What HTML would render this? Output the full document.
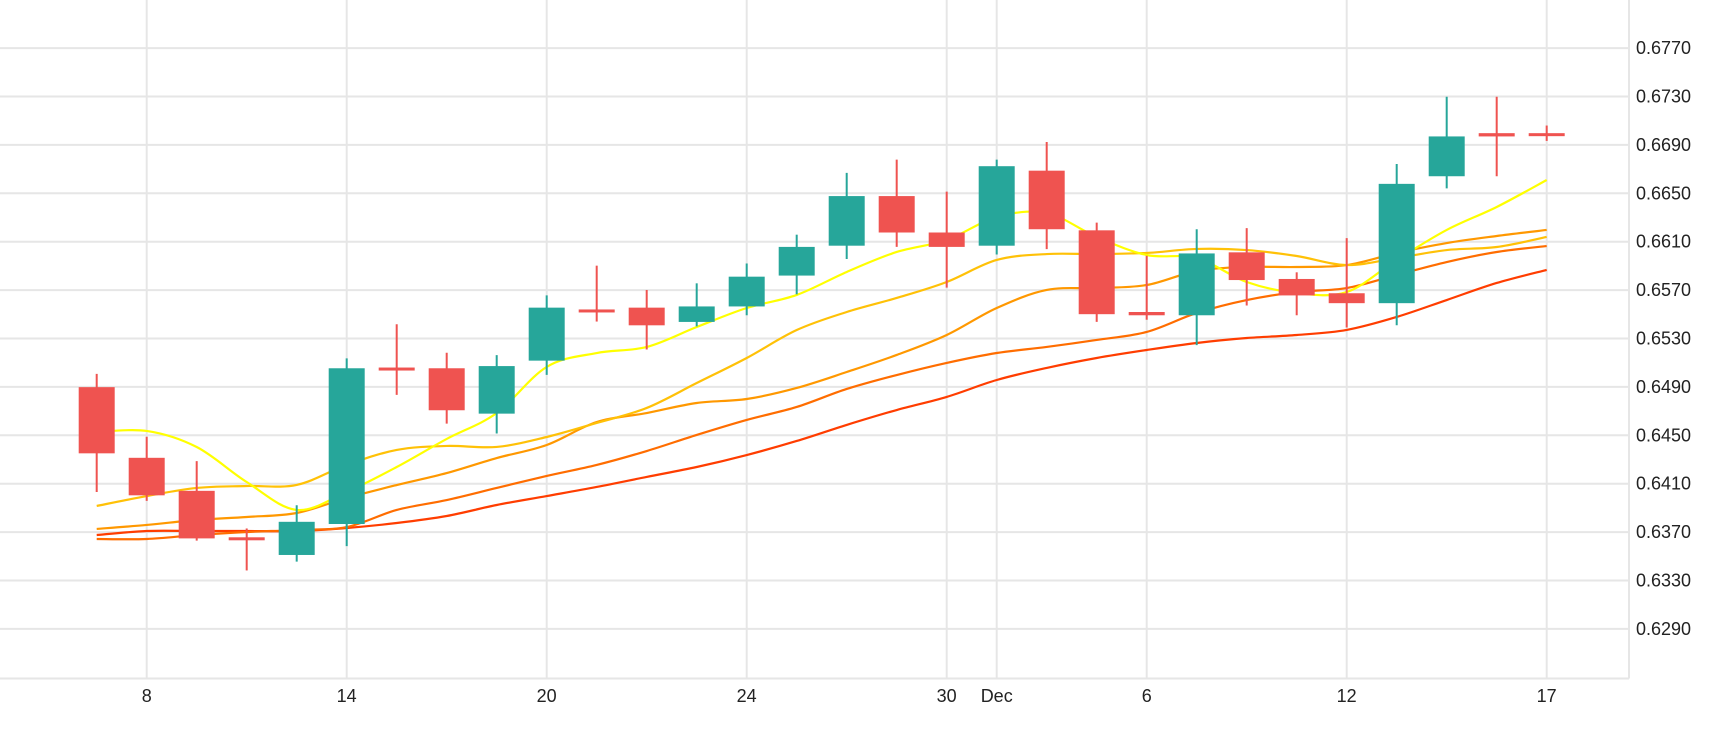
<!DOCTYPE html>
<html><head><meta charset="utf-8"><style>
html,body{margin:0;padding:0;background:#fff;}
svg{display:block;font-family:"Liberation Sans",sans-serif;}
</style></head><body>
<svg id="chart" width="1730" height="730" viewBox="0 0 1730 730" xmlns="http://www.w3.org/2000/svg">
<g id="grid"></g>
<g id="mas"></g>
<g id="candles"></g>
<g id="axes"></g>
</svg>
<script>
const opens  = [0.64898,0.64314,0.64041,0.63657,0.63511,0.63767,0.6506,0.65054,0.64679,0.65117,0.6554,0.65555,0.65437,0.65565,0.6582,0.66067,0.66477,0.66176,0.66067,0.66687,0.66194,0.65519,0.65492,0.66012,0.65792,0.65674,0.65592,0.66641,0.66997,0.66997];
const closes = [0.64351,0.64004,0.63648,0.63639,0.63785,0.65054,0.6505,0.64707,0.65072,0.65555,0.6553,0.65409,0.65565,0.65811,0.66057,0.66477,0.66176,0.66057,0.66724,0.66203,0.65501,0.65492,0.66003,0.65783,0.65656,0.65592,0.66578,0.6697,0.6697,0.66988];
const highs  = [0.65008,0.64488,0.64287,0.6373,0.63922,0.65136,0.65418,0.65182,0.65163,0.65656,0.65902,0.65701,0.65756,0.6592,0.66158,0.66669,0.66778,0.66514,0.66778,0.66924,0.66258,0.65984,0.66203,0.66212,0.65847,0.6613,0.66742,0.67298,0.67298,0.6706];
const lows   = [0.64031,0.63958,0.6363,0.63383,0.63456,0.63584,0.64834,0.64597,0.64515,0.64999,0.6544,0.65209,0.654,0.65492,0.65665,0.65957,0.66057,0.6572,0.65994,0.66039,0.65437,0.65455,0.65245,0.65573,0.65492,0.65391,0.65409,0.66541,0.66641,0.66933];
const maYellow = [0.64527,0.64536,0.64403,0.64114,0.63883,0.64032,0.64238,0.6447,0.64684,0.65065,0.6518,0.6523,0.65395,0.65552,0.6566,0.6585,0.66015,0.66114,0.66304,0.66337,0.66139,0.6599,0.65965,0.65767,0.65676,0.65684,0.65949,0.66197,0.66387,0.6661];
const maAmber  = [0.63916,0.63998,0.64065,0.64081,0.6409,0.64255,0.64379,0.64412,0.64404,0.64486,0.64602,0.64726,0.64932,0.65139,0.6537,0.65519,0.65635,0.65767,0.65949,0.65998,0.65998,0.66007,0.6604,0.66031,0.65982,0.65907,0.65965,0.66031,0.66056,0.66139];
const maOrange = [0.63726,0.63759,0.638,0.63825,0.63858,0.63982,0.64089,0.64188,0.64312,0.6442,0.6461,0.64684,0.64767,0.648,0.64891,0.65023,0.65164,0.65329,0.65552,0.65701,0.65717,0.65742,0.65858,0.65891,0.65891,0.65907,0.66007,0.66089,0.66147,0.66197];
const maDark   = [0.63643,0.63643,0.63676,0.63701,0.63717,0.63742,0.63883,0.63965,0.64065,0.64164,0.64255,0.6437,0.64503,0.64627,0.64734,0.64883,0.64998,0.65098,0.6518,0.6523,0.65288,0.65354,0.65511,0.65618,0.65684,0.65717,0.65825,0.65932,0.66015,0.66064];
const maRed    = [0.63676,0.63709,0.63709,0.63709,0.63709,0.63734,0.63775,0.63833,0.63924,0.63998,0.64073,0.64156,0.64238,0.64337,0.64453,0.64586,0.64709,0.64817,0.64957,0.65057,0.65139,0.65205,0.65263,0.65304,0.65329,0.65371,0.65478,0.65618,0.65759,0.65867];
const yTicks = [0.6770,0.6730,0.6690,0.6650,0.6610,0.6570,0.6530,0.6490,0.6450,0.6410,0.6370,0.6330,0.6290];
const xTickIdx = [1,5,9,13,17,18,21,25,29];
const xTickLabels = ["8","14","20","24","30","Dec","6","12","17"];

const NS="http://www.w3.org/2000/svg";
const plotRight=1629, plotBottom=678.5;
function y(p){ return 241.7 + (0.6610 - p) * 12100; }
function x(i){ return 96.7 + 50 * i; }
function mk(tag, attrs, parent){ const e=document.createElementNS(NS,tag); for(const k in attrs) e.setAttribute(k,attrs[k]); parent.appendChild(e); return e; }

const grid=document.getElementById('grid');
yTicks.forEach(t=>{
  const l=mk('line',{x1:0,x2:plotRight,y1:y(t),y2:y(t),stroke:'#e6e6e6','stroke-width':2},grid);
  
  
});
xTickIdx.forEach(i=>{
  const l=mk('line',{x1:x(i),x2:x(i),y1:0,y2:plotBottom,stroke:'#e6e6e6','stroke-width':2},grid);
  
  
});

const mas=document.getElementById('mas');
[[maRed,'#ff3d00','ma-red'],[maDark,'#ff6d00','ma-dark-orange'],[maOrange,'#ff9800','ma-orange'],[maAmber,'#ffc107','ma-amber'],[maYellow,'#ffff00','ma-yellow']].forEach(([arr,col,name])=>{
  const pts=arr.map((v,i)=>[x(i),y(v)]);
  let d='M'+pts[0][0]+','+pts[0][1];
  for(let i=0;i<pts.length-1;i++){
    const p0=pts[Math.max(0,i-1)],p1=pts[i],p2=pts[i+1],p3=pts[Math.min(pts.length-1,i+2)];
    const c1x=p1[0]+(p2[0]-p0[0])/6,c1y=p1[1]+(p2[1]-p0[1])/6;
    const c2x=p2[0]-(p3[0]-p1[0])/6,c2y=p2[1]-(p3[1]-p1[1])/6;
    d+=' C'+c1x+','+c1y+' '+c2x+','+c2y+' '+p2[0]+','+p2[1];
  }
  const path=mk('path',{d:d,fill:'none',stroke:col,'stroke-width':2.2},mas);
  
  
});

const cg=document.getElementById('candles');
opens.forEach((o,i)=>{
  const c=closes[i], up=c>=o, col=up?'#26a69a':'#ef5350';
  const g=mk('g',{},cg);
  
  
  mk('line',{x1:x(i),x2:x(i),y1:y(highs[i]),y2:y(lows[i]),stroke:col,'stroke-width':2},g);
  const top=y(Math.max(o,c)), h=Math.max(3,Math.abs(y(o)-y(c)));
  mk('rect',{x:x(i)-18,y:top,width:36,height:h,fill:col},g);
});

const axes=document.getElementById('axes');
const xa=mk('line',{x1:0,x2:plotRight,y1:plotBottom,y2:plotBottom,stroke:'#e6e6e6','stroke-width':2},axes);


const ya=mk('line',{x1:plotRight,x2:plotRight,y1:0,y2:plotBottom,stroke:'#e6e6e6','stroke-width':2},axes);


yTicks.forEach(t=>{
  const tx=mk('text',{x:1636,y:y(t)+6,'font-size':18,fill:'#222'},axes);
  tx.textContent=t.toFixed(4);
  
  
});
xTickIdx.forEach((i,k)=>{
  const tx=mk('text',{x:x(i),y:702,'font-size':18,fill:'#222','text-anchor':'middle'},axes);
  tx.textContent=xTickLabels[k];
  
  
});
</script>
</body></html>
